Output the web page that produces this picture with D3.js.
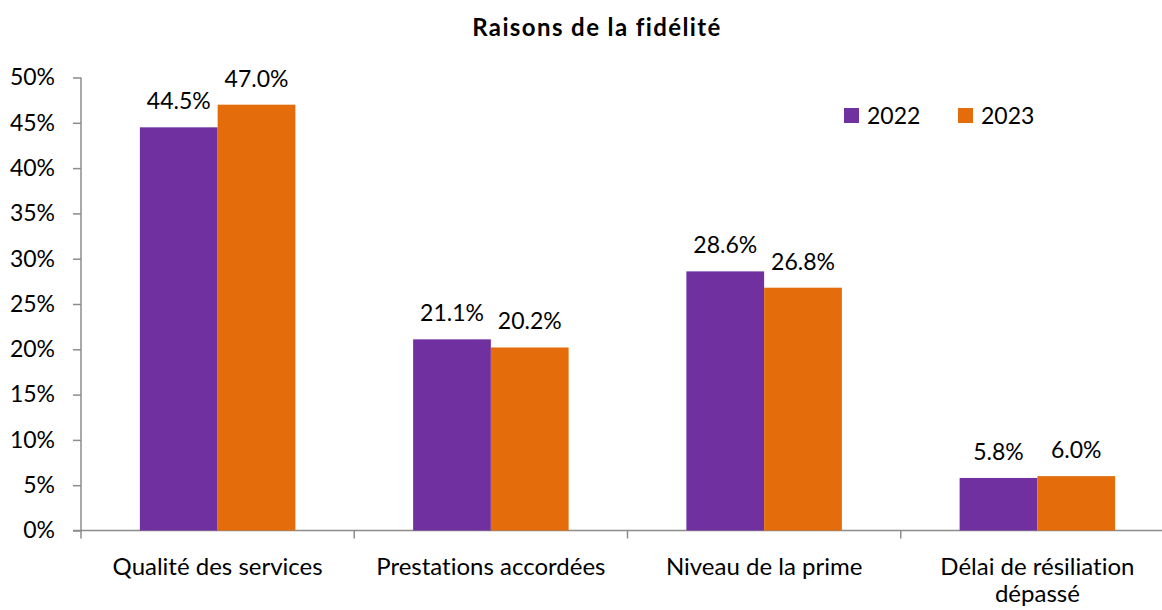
<!DOCTYPE html>
<html>
<head>
<meta charset="utf-8">
<script src="https://cdn.jsdelivr.net/npm/d3@7"></script>
<style>
  body { margin: 0; background: #fff; }
  text { font-family: Lato, "Open Sans", sans-serif; fill: #000; font-variant-ligatures: none; }
</style>
</head>
<body>
<svg width="1162" height="610"></svg>
<script>
/* data */
var categories = ["Qualité des services", "Prestations accordées", "Niveau de la prime", "Délai de résiliation dépassé"]
var years = ["2022", "2023"]
var values2022 = [44.5, 21.1, 28.6, 5.8]
var values2023 = [47.0, 20.2, 26.8, 6.0]
var yTicks = [0, 5, 10, 15, 20, 25, 30, 35, 40, 45, 50]
var colors = ["#7030A0", "#E46C0A"]

var svg = d3.select("svg")

var x = d3.scaleBand().domain(categories).range([81, 1174]).paddingInner(0).paddingOuter(0)
var y = d3.scaleLinear().domain([0, 50]).range([530.5, 77.5])
var xs = d3.scaleBand().domain(years).range([0, 155.5])

var series = years.map(function(yr, i) {
    var vals = i == 0 ? values2022 : values2023
    return categories.map(function(c, j) { return {cat: c, year: yr, v: vals[j], col: colors[i]} })
})

/* title */
svg.append("text")
    .attr("x", 597).attr("y", 36)
    .attr("text-anchor", "middle")
    .style("font-weight", "bold").style("font-size", "24px").style("letter-spacing", "1.4px")
    .text("Raisons de la fidélité")

/* y axis */
var gy = svg.append("g").attr("transform", "translate(81,0)")
    .call(d3.axisLeft(y).tickValues(yTicks).tickSize(8).tickPadding(18).tickFormat(function(d) { return d + "%" }))
gy.selectAll("path, line").attr("stroke", "#8c8c8c").attr("stroke-width", 1.5)
gy.select(".domain").attr("d", "M0," + y(50) + "V" + y(0)).attr("stroke", "#8c8c8c")
gy.selectAll("text").style("font-size", "23px").style("font-family", "Lato, sans-serif").attr("fill", "#000")

/* x axis */
var gx = svg.append("g").attr("transform", "translate(0," + y(0) + ")")
gx.append("line").attr("x1", 73).attr("x2", 1174).attr("stroke", "#8c8c8c").attr("stroke-width", 1.5)
gx.selectAll(".sep")
    .data(categories)
    .enter()
    .append("line")
    .attr("x1", function(d) { return x(d) }).attr("x2", function(d) { return x(d) })
    .attr("y1", 0).attr("y2", 8)
    .attr("stroke", "#8c8c8c").attr("stroke-width", 1.5)

var lab = svg.selectAll(".xlab")
    .data(categories)
    .enter()
    .append("text")
    .attr("text-anchor", "middle")
    .style("font-size", "24px")
lab.each(function(d) {
    var t = d3.select(this)
    var lines = d == "Délai de résiliation dépassé" ? ["Délai de résiliation", "dépassé"] : [d]
    lines.forEach(function(l, i) {
        t.append("tspan")
            .attr("x", x(d) + x.bandwidth() / 2)
            .attr("y", 575 + i * 27)
            .text(l)
    })
})

/* bars */
var bandPad = (x.bandwidth() - xs.range()[1]) / 2
series.forEach(function(s) {
    var g = svg.append("g")
    g.selectAll("rect")
        .data(s)
        .enter()
        .append("rect")
        .attr("x", function(d) { return x(d.cat) + bandPad + xs(d.year) })
        .attr("y", function(d) { return y(d.v) })
        .attr("width", xs.bandwidth())
        .attr("height", function(d) { return y(0) - y(d.v) })
        .attr("fill", function(d) { return d.col })
    g.selectAll("text")
        .data(s)
        .enter()
        .append("text")
        .attr("x", function(d) { return x(d.cat) + bandPad + xs(d.year) + xs.bandwidth() / 2 })
        .attr("y", function(d) { return y(d.v) - 18 })
        .attr("text-anchor", "middle")
        .style("font-size", "23px")
        .text(function(d) { return d.v.toFixed(1) + "%" })
})

/* legend */
var leg = svg.selectAll(".leg")
    .data(years)
    .enter()
    .append("g")
    .attr("transform", function(d, i) { return "translate(" + (844 + i * 114) + ",108)" })
leg.append("rect").attr("width", 15).attr("height", 15).attr("fill", function(d, i) { return colors[i] })
leg.append("text").attr("x", 23).attr("y", 16).style("font-size", "23px").text(function(d) { return d })
</script>
</body>
</html>
